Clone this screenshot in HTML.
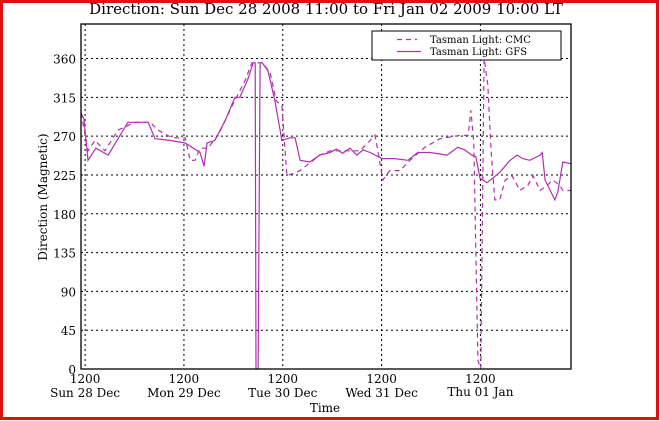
<!DOCTYPE html>
<html><head><meta charset="utf-8"><style>
html,body{margin:0;padding:0;background:#fff;}
svg{display:block;font-family:"DejaVu Serif","Liberation Serif",serif;}
</style></head><body>
<svg id="chart" width="660" height="421" viewBox="0 0 660 421">
<rect x="1.5" y="1.5" width="656" height="417" fill="#fff" stroke="#dd1111" stroke-width="3"/>
<text x="326" y="14" text-anchor="middle" font-size="15">Direction: Sun Dec 28 2008 11:00 to Fri Jan 02 2009 10:00 LT</text>
<g id="grid"></g>
<g id="series"></g>
<rect x="81" y="24" width="490" height="345" fill="none" stroke="#000" stroke-width="1.3"/>
<g id="axes"></g>
<text x="325" y="412" text-anchor="middle" font-size="12">Time</text>
<text transform="translate(47,197) rotate(-90)" text-anchor="middle" font-size="12">Direction (Magnetic)</text>
<g>
<rect x="372" y="31" width="189" height="29" fill="#fff" stroke="#000" stroke-width="1"/>
<line x1="397" y1="39.5" x2="417" y2="39.5" stroke="#b030b0" stroke-width="1.2" stroke-dasharray="5,4"/>
<text x="430" y="43" font-size="10">Tasman Light: CMC</text>
<line x1="397" y1="51.5" x2="421" y2="51.5" stroke="#b030b0" stroke-width="1.2"/>
<text x="430" y="55" font-size="10">Tasman Light: GFS</text>
</g>
</svg>
<script>
const yTicks=[0,45,90,135,180,225,270,315,360];
const xTickHours=[1,25,49,73,97];
const xTickTop=["1200","1200","1200","1200","1200"];
const xTickBottom=["Sun 28 Dec","Mon 29 Dec","Tue 30 Dec","Wed 31 Dec","Thu 01 Jan"];
const gfsHours=[0,0.7,1.7,3.6,6.6,11.4,16.3,18,21.6,25.3,28.9,29.9,30.6,32.5,35,37.4,38.6,40.6,41.8,42.3,42.5,43,43.5,44,45.4,47.1,48.8,50.8,52,53.2,55.6,58,60.5,62,63.5,65.3,67,68.5,70.2,73.1,76.2,79.4,81.8,84.7,88.9,91.5,93.2,94.9,95.9,96.9,98.6,101.7,104.2,105.9,107.3,109,111.5,112,112.7,115.1,115.8,117,119];
const gfsValues=[297,290,242,256,248,286,286,267,265,262,251,235,262,265,288,315,315,337,355,355,0,0,355,355,346,311,265,268,268,242,240,248,251,255,250,256,248,254,251,244,244,242,251,251,248,257,254,248,246,221,216,228,242,248,244,242,248,251,219,196,205,240,238];
const cmcHours=[0,1.7,3.4,5.8,9,13.1,16.8,18.7,22.1,25.3,26.5,27.7,28.9,30.8,33.3,36.7,39.8,41.5,44,45.9,47.4,48.8,50,53.2,58,60.5,67.8,70.2,71.4,72.1,73.3,75,77.5,79.9,83.5,87.2,92,94,94.7,95.4,96.4,97.1,97.9,98.8,99.6,100.5,101.7,103,104.7,106.6,108.5,109.8,111.5,113.2,114.6,116.3,117,119];
const cmcValues=[297,253,265,253,277,286,286,277,268,268,242,242,256,256,271,305,334,355,355,344,311,305,224,230,248,253,253,265,271,253,219,230,230,242,257,267,271,271,300,262,10,0,360,330,253,196,196,219,224,207,213,224,207,213,219,213,207,207];
const X0=81,X1=571,Y0=369,Y1=24,HMAX=119,VMAX=400;
const sx=h=>X0+(X1-X0)*h/HMAX;
const sy=v=>Y0-(Y0-Y1)*v/VMAX;
const NS="http://www.w3.org/2000/svg";
const grid=document.getElementById('grid'),axes=document.getElementById('axes'),ser=document.getElementById('series');
function mk(tag,attrs,parent){const e=document.createElementNS(NS,tag);for(const k in attrs)e.setAttribute(k,attrs[k]);parent.appendChild(e);return e;}
yTicks.forEach(v=>{
  const y=sy(v);
  if(v>0){const g=mk('line',{x1:X0,x2:X1,y1:y,y2:y,stroke:'#000','stroke-width':1,'stroke-dasharray':'2,3'},grid);
  
  }
  const t=mk('text',{x:X0-5,y:y+5,'text-anchor':'end','font-size':12},axes);
  t.textContent=v;
  
  
});
xTickHours.forEach((h,i)=>{
  const x=sx(h);
  const g=mk('line',{x1:x,x2:x,y1:Y1,y2:Y0,stroke:'#000','stroke-width':1,'stroke-dasharray':'2,3'},grid);
  
  
  const t1=mk('text',{x:x,y:383,'text-anchor':'middle','font-size':12},axes);
  t1.textContent=xTickTop[i];
  
  
  const t2=mk('text',{x:x,y:i==4?396:397,'text-anchor':'middle','font-size':12},axes);
  t2.textContent=xTickBottom[i];
  
  
});
function path(hs,vs){return hs.map((h,i)=>(i?'L':'M')+sx(h).toFixed(1)+' '+sy(vs[i]).toFixed(1)).join(' ');}
const c=mk('path',{d:path(cmcHours,cmcValues),fill:'none',stroke:'#b030b0','stroke-width':1.2,'stroke-dasharray':'5,4'},ser);


const g=mk('path',{d:path(gfsHours,gfsValues),fill:'none',stroke:'#b030b0','stroke-width':1.2},ser);


</script>
</body></html>
